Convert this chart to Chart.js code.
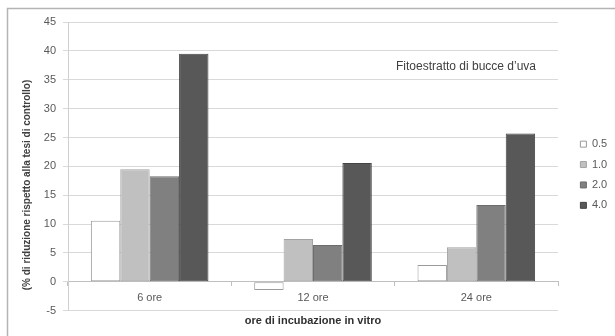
<!DOCTYPE html>
<html>
<head>
<meta charset="utf-8">
<script src="https://cdn.jsdelivr.net/npm/chart.js@4/dist/chart.umd.min.js"></script>
<style>
  html, body { margin: 0; padding: 0; background: #ffffff; }
  #wrap { position: relative; width: 615px; height: 336px; }
  canvas { display: block; }
</style>
</head>
<body>
<div id="wrap"><canvas id="c" width="615" height="336"></canvas></div>
<script>
// Incubation times (categories) and phytoextract doses (series)
const categories = ['6 ore', '12 ore', '24 ore'];
const doseLabels = ['0.5', '1.0', '2.0', '4.0'];

// % reduction versus the control, one array per dose
const dose05 = [10.6, -1.4, 2.9];
const dose10 = [19.5, 7.4, 6.0];
const dose20 = [18.3, 6.4, 13.3];
const dose40 = [39.5, 20.6, 25.7];

// Value axis ticks
const yMin = -5;
const yMax = 45;
const yStep = 5;

const yTitleText = '(% di riduzione rispetto alla tesi di controllo)';
const xTitleText = 'ore di incubazione in vitro';
const noteText = 'Fitoestratto di bucce d\u2019uva';

const FONT = "'Liberation Sans', Arial, sans-serif";
const fills = ['#ffffff', '#c0c0c0', '#808080', '#585858'];
const edges = ['#9a9a9a', '#a2a2a2', '#6c6c6c', '#444444'];
const seriesValues = [dose05, dose10, dose20, dose40];

const datasets = doseLabels.map((lab, i) => ({
  label: lab,
  data: seriesValues[i],
  backgroundColor: fills[i],
  borderColor: edges[i],
  borderWidth: 1,
  borderSkipped: false,
  barPercentage: 1.0,
  categoryPercentage: 0.72,
  xAxisID: 'x',
  yAxisID: 'y'
}));

// Frame, rotated value-axis title and the in-plot note
const decorations = {
  id: 'decorations',
  beforeDraw(chart) {
    const ctx = chart.ctx;
    ctx.save();
    ctx.fillStyle = '#ffffff';
    ctx.fillRect(0, 0, chart.width, chart.height);
    ctx.strokeStyle = '#b4b4b4';
    ctx.lineWidth = 1.5;
    ctx.beginPath();
    ctx.moveTo(7.5, chart.height);
    ctx.lineTo(7.5, 8.5);
    ctx.lineTo(chart.width, 8.5);
    ctx.stroke();
    ctx.restore();
  },
  afterDraw(chart) {
    const ctx = chart.ctx;
    ctx.save();
    ctx.fillStyle = '#404040';
    ctx.font = 'bold 10px ' + FONT;
    ctx.textAlign = 'center';
    ctx.textBaseline = 'middle';
    ctx.translate(27, 185);
    ctx.rotate(-Math.PI / 2);
    ctx.fillText(yTitleText, 0, 0);
    ctx.restore();

    ctx.save();
    ctx.fillStyle = '#404040';
    ctx.font = '12px ' + FONT;
    ctx.textAlign = 'center';
    ctx.textBaseline = 'middle';
    ctx.fillText(noteText, 466, 67);
    ctx.restore();
  }
};

new Chart(document.getElementById('c'), {
  type: 'bar',
  data: { labels: categories, datasets: datasets },
  plugins: [decorations],
  options: {
    responsive: false,
    animation: false,
    devicePixelRatio: 1,
    layout: { padding: { top: 22, left: 0, right: 0, bottom: 0 } },
    plugins: {
      tooltip: { enabled: false },
      legend: {
        position: 'right',
        fullSize: false,
        maxWidth: 44,
        title: { display: true, text: ' ', font: { size: 10 }, padding: 2.4 },
        labels: {
          boxWidth: 6,
          boxHeight: 6,
          padding: 9.4,
          color: '#595959',
          font: { family: FONT, size: 11 }
        }
      }
    },
    scales: {
      x: {
        type: 'category',
        position: { y: 0 },
        offset: true,
        grid: {
          display: true,
          drawOnChartArea: false,
          offset: true,
          tickLength: 4,
          color: '#bfbfbf'
        },
        border: { display: true, color: '#bfbfbf', width: 1 },
        ticks: {
          color: '#595959',
          padding: 6,
          font: { family: FONT, size: 11 }
        }
      },
      xt: {
        type: 'category',
        position: 'bottom',
        grid: { display: false },
        border: { display: false },
        ticks: { display: false },
        title: {
          display: true,
          text: xTitleText,
          color: '#303030',
          font: { family: FONT, size: 11, weight: 'bold' },
          padding: { top: 0, bottom: 8.7 }
        },
        afterFit(scale) { scale.height = 25.3; }
      },
      y: {
        type: 'linear',
        position: 'left',
        min: yMin,
        max: yMax,
        grid: { color: '#d9d9d9', lineWidth: 1, tickLength: 5 },
        border: { display: true, color: '#cfcfcf', width: 1 },
        ticks: {
          stepSize: yStep,
          color: '#595959',
          padding: 7,
          font: { family: FONT, size: 11 }
        },
        afterFit(scale) { scale.width = 68; }
      },
      yr: {
        type: 'linear',
        position: 'right',
        grid: { display: false },
        border: { display: false },
        ticks: { display: false },
        afterFit(scale) { scale.width = 13; }
      }
    }
  }
});
</script>
</body>
</html>
